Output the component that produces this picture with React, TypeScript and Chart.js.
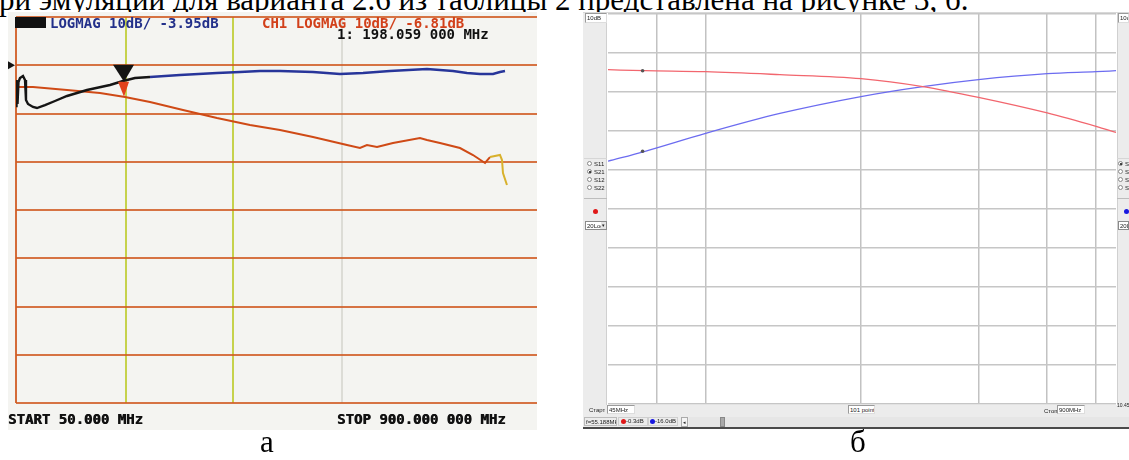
import React, { useEffect, useRef } from "react";
import { Chart, registerables } from "chart.js";
Chart.register(...registerables);

// ---------- Panel "а" : network analyzer screen (MHz / dB) ----------
const freqA_ch2 = [50, 50.9, 52.6, 54.3, 56.9, 62.1, 65.6, 67.3, 70.8, 79.4, 86.3, 100.2, 117.5, 138.3, 172.9, 212.7, 235.2, 256.0, 282.0, 333.9, 398.0, 437.8, 472.4, 507.1, 564.2, 610.9, 650.7, 697.5, 761.5, 806.5, 830.8, 853.3, 875.8, 887.9, 896.6];
const dbA_ch2 = [-8.45, -3.06, -8.03, -3.47, -2.64, -2.23, -3.06, -7.2, -8.03, -8.65, -8.86, -8.24, -7.41, -6.37, -5.13, -4.09, -3.26, -2.64, -2.44, -2.02, -1.61, -1.4, -1.19, -1.19, -1.4, -1.81, -1.61, -1.19, -0.78, -1.19, -1.61, -1.81, -1.81, -1.4, -1.19];
const freqA_ch1 = [53.5, 79.4, 138.3, 195.4, 238.7, 282.0, 339.1, 398.0, 455.1, 507.1, 564.2, 623.0, 645.5, 657.6, 675.0, 702.7, 749.4, 761.5, 784.0, 818.7, 841.2, 862.0, 870.6, 887.9, 891.4, 893.1, 900];
const dbA_ch1 = [-4.51, -4.51, -5.13, -5.75, -6.58, -7.62, -9.27, -10.93, -12.38, -13.42, -14.87, -16.53, -17.15, -16.53, -16.94, -16.11, -15.08, -15.49, -16.11, -17.15, -18.6, -20.26, -19.02, -18.6, -19.64, -22.33, -24.82];
const xGridA = [50, 240, 426, 614];
const yGridA = [10, 0, -10, -20, -30, -40, -50, -60, -70];
const markerA = [237];

// ---------- Panel "б" : simulation (log frequency, dB) ----------
const freqB = [45, 56, 80, 124, 200, 288, 400, 600, 800, 900];
const dbB_red = [-0.1, -0.3, -0.49, -1.07, -1.85, -3.4, -5.5, -8.54, -11.15, -12.32];
const dbB_blue = [-17.94, -16.0, -12.51, -8.63, -5.34, -3.4, -2.04, -0.88, -0.49, -0.3];
const xGridB = [60, 80, 200, 400, 600, 800];
const yGridB = [10.75, 3.15, -4.45, -12.05, -19.65, -27.25, -34.85, -42.45, -50.05, -57.65, -65.25];
const markerFreqB = [55.188];
const markerDbB = [-0.3, -16.0];

function interp(xs: number[], ys: number[], x: number) {
  for (let i = xs.length - 2; i >= 0; i--) {
    if (x >= xs[i] && x <= xs[i + 1]) {
      const t = (x - xs[i]) / (xs[i + 1] - xs[i]);
      return ys[i] + t * (ys[i + 1] - ys[i]);
    }
  }
  return ys[ys.length - 1];
}

const markerPluginA = {
  id: "markersA",
  afterDatasetsDraw(chart: any) {
    const { ctx, scales, chartArea } = chart;
    const x = scales.x, y = scales.y;
    const f = markerA[0];
    const px = x.getPixelForValue(f);
    const yb = y.getPixelForValue(interp(freqA_ch2, dbA_ch2, f));
    const yr = y.getPixelForValue(interp(freqA_ch1, dbA_ch1, f));
    ctx.save();
    ctx.fillStyle = "#e2421c";
    ctx.beginPath();
    ctx.moveTo(px - 6, yr - 15);
    ctx.lineTo(px + 5, yr - 15);
    ctx.lineTo(px, yr);
    ctx.closePath();
    ctx.fill();
    ctx.fillStyle = "#141414";
    ctx.beginPath();
    ctx.moveTo(px - 11, yb - 16);
    ctx.lineTo(px + 10, yb - 16);
    ctx.lineTo(px, yb + 1);
    ctx.closePath();
    ctx.fill();
    const y0 = y.getPixelForValue(0);
    ctx.beginPath();
    ctx.moveTo(chartArea.left - 8, y0 - 4);
    ctx.lineTo(chartArea.left - 1, y0);
    ctx.lineTo(chartArea.left - 8, y0 + 4);
    ctx.closePath();
    ctx.fill();
    ctx.restore();
  },
};

const pos = (l: number, t: number, w?: number, h?: number): React.CSSProperties => ({
  position: "absolute", left: l, top: t, width: w, height: h, boxSizing: "border-box",
});

const mono: React.CSSProperties = {
  position: "absolute", fontFamily: '"DejaVu Sans Mono", monospace', fontWeight: "bold",
  fontSize: 14, lineHeight: "14px", whiteSpace: "pre",
};
const tiny: React.CSSProperties = {
  fontFamily: '"Liberation Sans", Arial, sans-serif', fontSize: 6, lineHeight: "8px",
  whiteSpace: "pre", color: "#222", overflow: "hidden",
};

function TinyBox(p: { l: number; t: number; w: number; h: number; text: string }) {
  return (
    <div style={{ ...pos(p.l, p.t, p.w, p.h), ...tiny, background: "#fff", border: "1px solid #9a9a9a", borderRightColor: "#ddd", borderBottomColor: "#ddd", paddingLeft: 1 }}>
      {p.text}
    </div>
  );
}

function Radio(p: { l: number; t: number; text: string; on?: boolean }) {
  return (
    <div style={{ ...pos(p.l, p.t, 30, 8) }}>
      <div style={{ ...pos(0, 1, 5, 5), borderRadius: "50%", border: "1px solid #888", background: "#fff" }}>
        {p.on ? <div style={{ ...pos(1, 1, 1.5, 1.5), background: "#222", borderRadius: "50%" }} /> : null}
      </div>
      <div style={{ ...pos(7, 0), ...tiny }}>{p.text}</div>
    </div>
  );
}

function Dot(p: { x: number; y: number; c: string }) {
  return <div style={{ ...pos(p.x - 2.5, p.y - 2.5, 5, 5), borderRadius: "50%", background: p.c }} />;
}

export default function App() {
  const refA = useRef<HTMLCanvasElement>(null);
  const refB = useRef<HTMLCanvasElement>(null);

  useEffect(() => {
    const hidden = { ticks: { display: false }, border: { display: false } };
    const chartA = new Chart(refA.current!, {
      type: "line",
      data: {
        datasets: [
          {
            data: freqA_ch2.map((x, i) => ({ x, y: dbA_ch2[i] })),
            borderColor: "#27359a",
            borderWidth: 2.4,
            pointRadius: 0,
            segment: { borderColor: (c: any) => (c.p0.parsed.x < 265 ? "#151515" : "#27359a") },
          } as any,
          {
            data: freqA_ch1.map((x, i) => ({ x, y: dbA_ch1[i] })),
            borderColor: "#cf4a16",
            borderWidth: 2,
            pointRadius: 0,
            segment: { borderColor: (c: any) => (c.p1.parsed.x > 886 ? "#d8b12c" : "#cf4a16") },
          } as any,
        ],
      },
      options: {
        animation: false,
        responsive: false,
        devicePixelRatio: 1,
        layout: { padding: { left: 8, top: 5, right: 0, bottom: 27 } },
        plugins: { legend: { display: false }, tooltip: { enabled: false } },
        scales: {
          x: {
            type: "linear", min: 50, max: 952, ...hidden,
            grid: {
              drawTicks: false, lineWidth: 2,
              color: (c: any) => ["rgba(208,92,36,0.9)", "#c6d24c", "#c6d24c", "#dcdcd6"][c.index] || "#ddd",
            },
            afterBuildTicks: (s: any) => { s.ticks = xGridA.map((v) => ({ value: v })); },
          },
          y: {
            type: "linear", min: -70, max: 10, ...hidden,
            grid: { drawTicks: false, lineWidth: 2, color: "rgba(208,92,36,0.85)" },
            afterBuildTicks: (s: any) => { s.ticks = yGridA.map((v) => ({ value: v })); },
          },
        },
      } as any,
      plugins: [markerPluginA],
    });

    const chartB = new Chart(refB.current!, {
      type: "line",
      data: {
        datasets: [
          {
            data: markerDbB.map((y) => ({ x: markerFreqB[0], y })),
            showLine: false, pointRadius: 1.8, backgroundColor: "#555", borderWidth: 0,
          } as any,
          {
            data: freqB.map((x, i) => ({ x, y: dbB_red[i] })),
            borderColor: "#f2666e", borderWidth: 1.3, pointRadius: 0, cubicInterpolationMode: "monotone",
          } as any,
          {
            data: freqB.map((x, i) => ({ x, y: dbB_blue[i] })),
            borderColor: "#6c6cf0", borderWidth: 1.3, pointRadius: 0, cubicInterpolationMode: "monotone",
          } as any,
        ],
      },
      options: {
        animation: false,
        responsive: false,
        devicePixelRatio: 1,
        layout: { padding: 3 },
        plugins: { legend: { display: false }, tooltip: { enabled: false } },
        scales: {
          x: {
            type: "logarithmic", min: 45, max: 900, ...hidden,
            grid: { drawTicks: false, lineWidth: 1.5, color: "#c2c2c2" },
            afterBuildTicks: (s: any) => { s.ticks = xGridB.map((v) => ({ value: v })); },
          },
          y: {
            type: "linear", min: -65.25, max: 10.75, ...hidden,
            grid: { drawTicks: false, lineWidth: 1.5, color: "#c6c6c6" },
            afterBuildTicks: (s: any) => { s.ticks = yGridB.map((v) => ({ value: v })); },
          },
        },
      } as any,
    });
    return () => { chartA.destroy(); chartB.destroy(); };
  }, []);

  const serif: React.CSSProperties = {
    position: "absolute", fontFamily: '"Liberation Serif", "Times New Roman", serif',
    fontSize: 31, lineHeight: "31px", whiteSpace: "pre", color: "#000",
  };

  return (
    <div style={{ position: "fixed", left: 0, top: 0, width: 1129, height: 460, background: "#fff", overflow: "hidden" }}>
      <div style={{ ...serif, left: -1, top: -16.5 }}>
        ри эмуляции для варианта 2.6 из таблицы 2 представлена на рисунке 3, б.
      </div>

      {/* Panel а */}
      <div style={{ ...pos(8, 12, 529, 418), background: "#f4f4f1" }}>
        <canvas ref={refA} width={529} height={418} style={{ position: "absolute", left: 0, top: 0 }} />
      </div>
      <div style={{ ...pos(15, 17, 31, 11), background: "#111" }} />
      <div style={{ ...mono, left: 50, top: 16, color: "#23308a" }}>LOGMAG 10dB/ -3.95dB</div>
      <div style={{ ...mono, left: 262, top: 16, color: "#d2401a" }}>CH1 LOGMAG 10dB/ -6.81dB</div>
      <div style={{ ...mono, left: 337, top: 27, color: "#111" }}>1: 198.059 000 MHz</div>
      <div style={{ ...mono, left: 8, top: 412, color: "#111", textShadow: "0.6px 0 0 #111" }}>START 50.000 MHz</div>
      <div style={{ ...mono, left: 337, top: 412, color: "#111", textShadow: "0.6px 0 0 #111" }}>STOP 900.000 000 MHz</div>

      {/* Panel б */}
      <div style={{ ...pos(583, 12, 546, 416), background: "#ececec", borderTop: "1px solid #d8d8d8" }} />
      <div style={{ ...pos(607, 13, 510, 392), background: "#fff" }} />
      <canvas ref={refB} width={516} height={398} style={{ position: "absolute", left: 604, top: 10 }} />
      <div style={{ ...pos(606, 13, 1, 392), background: "#d0d0d0" }} />
      <div style={{ ...pos(1117, 13, 1, 392), background: "#d0d0d0" }} />

      {/* left side controls */}
      <TinyBox l={585} t={13} w={22} h={10} text="10dB" />
      <div style={{ ...pos(584, 158, 23, 41), borderTop: "1px solid #d6d6d6", borderBottom: "1px solid #bdbdbd" }} />
      <Radio l={587} t={160} text="S11" />
      <Radio l={587} t={168} text="S21" on />
      <Radio l={587} t={176} text="S12" />
      <Radio l={587} t={184} text="S22" />
      <Dot x={595} y={211} c="#e01818" />
      <div style={{ ...pos(585, 221, 22, 9), ...tiny, background: "#fff", border: "1px solid #8a8a8a", paddingLeft: 1 }}>20Log|V|</div>
      <div style={{ ...pos(601, 222, 5, 7), ...tiny, background: "#e4e4e4", fontSize: 5, lineHeight: "7px", textAlign: "center" }}>▾</div>

      {/* right side controls */}
      <TinyBox l={1118} t={13} w={11} h={10} text="10dB" />
      <div style={{ ...pos(1117, 158, 12, 41), borderTop: "1px solid #d6d6d6", borderBottom: "1px solid #bdbdbd" }} />
      <Radio l={1118} t={160} text="S11" on />
      <Radio l={1118} t={168} text="S21" />
      <Radio l={1118} t={176} text="S12" />
      <Radio l={1118} t={184} text="S22" />
      <Dot x={1126} y={211} c="#1818e0" />
      <div style={{ ...pos(1118, 221, 11, 9), ...tiny, background: "#fff", border: "1px solid #8a8a8a", paddingLeft: 1 }}>20Log|V|</div>

      {/* bottom controls */}
      <div style={{ ...pos(589, 406), ...tiny }}>Старт</div>
      <TinyBox l={607} t={405} w={28} h={9} text="45MHz" />
      <TinyBox l={848} t={405} w={27} h={9} text="101 points" />
      <div style={{ ...pos(1044, 407), ...tiny }}>Стоп</div>
      <TinyBox l={1057} t={405} w={28} h={9} text="900MHz" />
      <div style={{ ...pos(1117, 401), ...tiny, fontSize: 5 }}>10.45</div>

      <div style={{ ...pos(584, 417, 33, 9), ...tiny, border: "1px solid #bbb", paddingLeft: 1 }}>f=55.188MHz</div>
      <div style={{ ...pos(618, 417, 30, 9), border: "1px solid #cfcfcf" }} />
      <Dot x={623} y={421.5} c="#e01818" />
      <div style={{ ...pos(626, 417), ...tiny }}>-0.3dB</div>
      <div style={{ ...pos(648, 417, 30, 9), border: "1px solid #cfcfcf" }} />
      <Dot x={652} y={421.5} c="#1818e0" />
      <div style={{ ...pos(655, 417), ...tiny }}>-16.0dB</div>
      <div style={{ ...pos(681, 417, 7, 10), ...tiny, border: "1px solid #aaa", background: "#f4f4f4", textAlign: "center", fontSize: 5 }}>◂</div>
      <div style={{ ...pos(689, 417, 440, 10), background: "#e6e6e6" }} />
      <div style={{ ...pos(720, 417, 5, 10), background: "#a8a8a8", border: "1px solid #888" }} />
      <div style={{ ...pos(583, 427, 546, 2), background: "#4a4a4a" }} />

      <div style={{ ...serif, left: 260, top: 426 }}>а</div>
      <div style={{ ...serif, left: 850, top: 426 }}>б</div>
    </div>
  );
}
